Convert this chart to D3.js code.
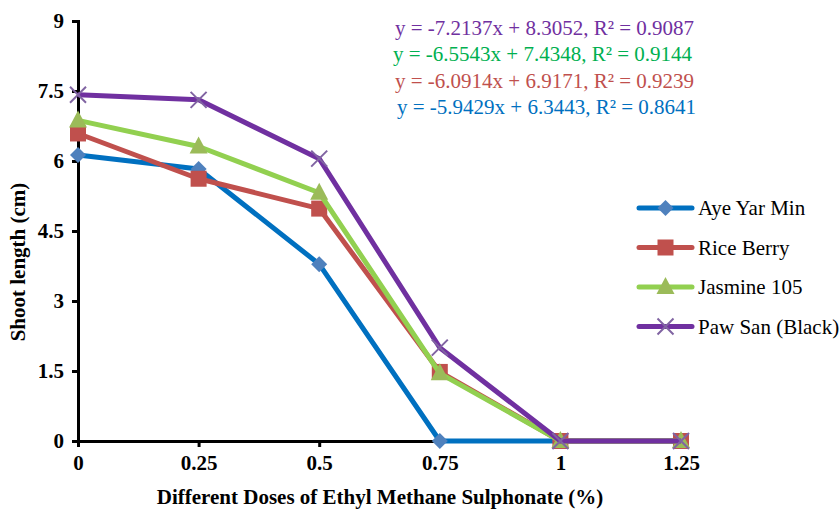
<!DOCTYPE html>
<html>
<head>
<meta charset="utf-8">
<script src="https://cdn.jsdelivr.net/npm/d3@7"></script>
<style>
body { margin: 0; background: #fff; }
svg text { font-family: "Liberation Serif", "Times New Roman", serif; }
</style>
</head>
<body>
<div id="chart"></div>
<script>
var doses = [0, 0.25, 0.5, 0.75, 1, 1.25];
var y_ticks = [0, 1.5, 3, 4.5, 6, 7.5, 9];
var x_tick_labels = ["0", "0.25", "0.5", "0.75", "1", "1.25"];

var aye_yar_min = [6.13, 5.83, 3.79, 0, 0, 0];
var rice_berry = [6.59, 5.62, 4.98, 1.48, 0, 0];
var jasmine_105 = [6.87, 6.31, 5.32, 1.45, 0, 0];
var paw_san = [7.42, 7.31, 6.05, 2.0, 0, 0];

var series_names = ["Aye Yar Min", "Rice Berry", "Jasmine 105", "Paw San (Black)"];
var equations = [
	"y = -7.2137x + 8.3052, R² = 0.9087",
	"y = -6.5543x + 7.4348, R² = 0.9144",
	"y = -6.0914x + 6.9171, R² = 0.9239",
	"y = -5.9429x + 6.3443, R² = 0.8641"
];

var series = [
	{name: series_names[0], values: aye_yar_min, line: "#0070C0", marker: "#4F81BD", shape: "diamond"},
	{name: series_names[1], values: rice_berry, line: "#C0504D", marker: "#C0504D", shape: "square"},
	{name: series_names[2], values: jasmine_105, line: "#92D050", marker: "#9BBB59", shape: "triangle"},
	{name: series_names[3], values: paw_san, line: "#7030A0", marker: "#8064A2", shape: "cross"}
];
var equation_colors = ["#7030A0", "#00B050", "#C0504D", "#0070C0"];

var width = 840, height = 509;
var svg = d3.select("#chart").append("svg")
	.attr("width", width)
	.attr("height", height);

var x = d3.scaleLinear().domain([0, 1.25]).range([78, 681]);
var y = d3.scaleLinear().domain([0, 9]).range([441, 21]);

// axes
var y_axis = svg.append("g")
	.attr("transform", "translate(" + x(0) + ",0)")
	.call(d3.axisLeft(y).tickValues(y_ticks).tickSize(6).tickFormat(d3.format("")));
var x_axis = svg.append("g")
	.attr("transform", "translate(0," + y(0) + ")")
	.call(d3.axisBottom(x).tickValues(doses).tickSize(6).tickFormat(function(d, i) { return x_tick_labels[i]; }));

[x_axis, y_axis].forEach(function(a) {
	a.attr("font-family", null);
	a.select(".domain").attr("stroke", "#000").attr("stroke-width", 3);
	a.selectAll(".tick line").attr("stroke", "#000").attr("stroke-width", 3);
	a.selectAll(".tick text")
		.attr("font-weight", "bold")
		.attr("font-size", 21)
		.attr("fill", "#000");
});
y_axis.selectAll(".tick text").attr("x", -14);
x_axis.selectAll(".tick text").attr("y", 14);

svg.append("text")
	.attr("transform", "translate(25,262) rotate(-90)")
	.attr("text-anchor", "middle")
	.attr("font-weight", "bold")
	.attr("font-size", 21)
	.text("Shoot length (cm)");

svg.append("text")
	.attr("x", 380)
	.attr("y", 504)
	.attr("text-anchor", "middle")
	.attr("font-weight", "bold")
	.attr("font-size", 21)
	.text("Different Doses of Ethyl Methane Sulphonate (%)");

function draw_marker(g, shape, color, cx, cy) {
	if (shape == "diamond") {
		g.append("path")
			.attr("d", "M" + cx + "," + (cy - 8) + "L" + (cx + 8) + "," + cy + "L" + cx + "," + (cy + 8) + "L" + (cx - 8) + "," + cy + "Z")
			.attr("fill", color);
	} else if (shape == "square") {
		g.append("rect")
			.attr("x", cx - 8).attr("y", cy - 8)
			.attr("width", 16).attr("height", 16)
			.attr("fill", color);
	} else if (shape == "triangle") {
		g.append("path")
			.attr("d", "M" + cx + "," + (cy - 10) + "L" + (cx + 9) + "," + (cy + 7) + "L" + (cx - 9) + "," + (cy + 7) + "Z")
			.attr("fill", color);
	} else {
		g.append("path")
			.attr("d", "M" + (cx - 8) + "," + (cy - 8) + "L" + (cx + 8) + "," + (cy + 8) + "M" + (cx + 8) + "," + (cy - 8) + "L" + (cx - 8) + "," + (cy + 8))
			.attr("stroke", color)
			.attr("stroke-width", 2)
			.attr("fill", "none");
	}
}

var line = d3.line()
	.x(function(d, i) { return x(doses[i]); })
	.y(function(d) { return y(d); });

series.forEach(function(s) {
	var g = svg.append("g");
	g.append("path")
		.datum(s.values)
		.attr("d", line)
		.attr("fill", "none")
		.attr("stroke", s.line)
		.attr("stroke-width", 5)
		.attr("stroke-linejoin", "round");
	s.values.forEach(function(v, i) {
		draw_marker(g, s.shape, s.marker, x(doses[i]), y(v));
	});
});

// legend
var legend = svg.append("g");
series.forEach(function(s, i) {
	var ly = 208 + i * 39.5;
	legend.append("line")
		.attr("x1", 639).attr("x2", 692)
		.attr("y1", ly).attr("y2", ly)
		.attr("stroke", s.line)
		.attr("stroke-width", 5)
		.attr("stroke-linecap", "round");
	draw_marker(legend, s.shape, s.marker, 665.5, ly);
	legend.append("text")
		.attr("x", 698)
		.attr("y", ly + 7)
		.attr("font-size", 21)
		.attr("fill", "#000")
		.text(s.name);
});

// trendline equations
equations.forEach(function(eq, i) {
	svg.append("text")
		.attr("x", [395, 393, 395, 397][i])
		.attr("y", 35 + i * 26.3)
		.attr("font-size", 21)
		.attr("fill", equation_colors[i])
		.text(eq);
});
</script>
</body>
</html>
